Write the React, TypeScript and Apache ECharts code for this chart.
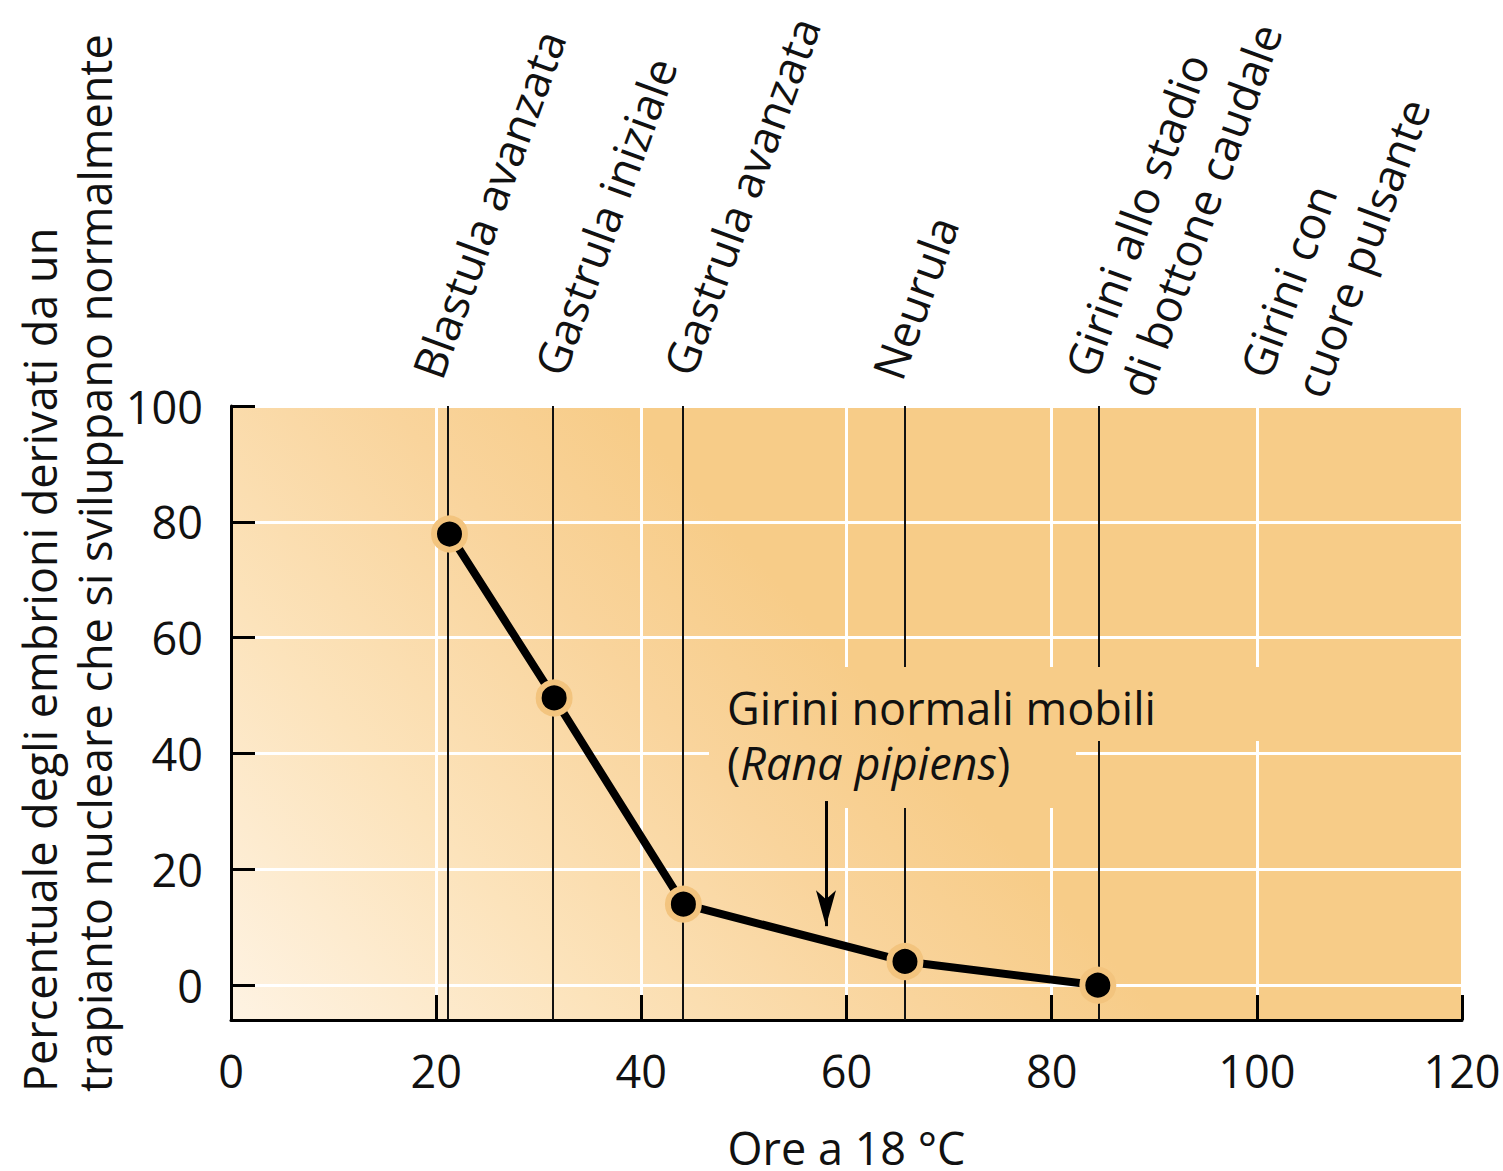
import React, { useEffect, useRef } from 'react';
import * as echarts from 'echarts';

// ---- data ----
const hours = [21.3, 31.5, 44.1, 65.7, 84.5];
const percent = [77.9, 49.6, 14.0, 4.1, 0];
const stageHours = [21.1, 31.35, 44.0, 65.7, 84.6];
const stageLabels = [
  'Blastula avanzata',
  'Gastrula iniziale',
  'Gastrula avanzata',
  'Neurula',
  'Girini allo stadio\ndi bottone caudale',
  'Girini con\ncuore pulsante',
];
const xTicks = [0, 20, 40, 60, 80, 100, 120];
const yTicks = [0, 20, 40, 60, 80, 100];
const arrowHour = 58.0;
const arrowFrom = 31.8;
const arrowTo = 10.2;
const yTitleLines = [
  'Percentuale degli embrioni derivati da un',
  'trapianto nucleare che si sviluppano normalmente',
];
const xTitle = 'Ore a 18 °C';
const noteLine1 = 'Girini normali mobili';
const noteSpecies = 'Rana pipiens';

// ---- layout ----
const FONT = '"Open Sans", "Noto Sans", sans-serif';
const FS = 45;
const TXT = '#111';
const stageAnchors = [
  [453, 386],
  [575, 383],
  [704, 383],
  [913, 387],
  [1160, 404],
  [1335, 405],
];

const makeGradient = () =>
  new echarts.graphic.LinearGradient(
    231, 1020, 755, 556,
    [
      { offset: 0, color: '#fef3e3' },
      { offset: 0.4, color: '#fce3bb' },
      { offset: 0.75, color: '#f9d49c' },
      { offset: 1, color: '#f7cc88' },
    ],
    true
  );

export default function App() {
  const ref = useRef<HTMLDivElement>(null);

  useEffect(() => {
    if (!ref.current) return;
    const chart = echarts.init(ref.current, null, { renderer: 'svg' });

    const rot70 = (70 * Math.PI) / 180;

    const graphic: any[] = [
      {
        type: 'rect', silent: true, z: 4,
        shape: { x: 709, y: 667, width: 561, height: 74 },
        style: { fill: makeGradient() },
      },
      {
        type: 'rect', silent: true, z: 4,
        shape: { x: 709, y: 739, width: 367, height: 69 },
        style: { fill: makeGradient() },
      },
      {
        type: 'text', z: 6, x: 727, y: 707,
        style: {
          text: noteLine1, fontSize: FS, fontFamily: FONT, fill: TXT,
          align: 'left', verticalAlign: 'middle',
        },
      },
      {
        type: 'text', z: 6, x: 727, y: 762,
        style: {
          text: '{n|(}{i|' + noteSpecies + '}{n|)}',
          fontSize: FS, fontFamily: FONT, fill: TXT,
          align: 'left', verticalAlign: 'middle',
          rich: {
            n: { fontSize: FS, fontFamily: FONT, fill: TXT },
            i: { fontSize: FS, fontFamily: FONT, fill: TXT, fontStyle: 'italic' },
          },
        },
      },
      ...stageLabels.map((t, i) => ({
        type: 'text', z: 6,
        x: stageAnchors[i][0], y: stageAnchors[i][1], rotation: rot70,
        style: {
          text: t, fontSize: FS, fontFamily: FONT, fill: TXT,
          align: 'left', verticalAlign: 'bottom', lineHeight: 58,
        },
      })),
      {
        type: 'text', z: 6, x: 39, y: 1092, rotation: Math.PI / 2,
        style: {
          text: yTitleLines[0], fontSize: FS, fontFamily: FONT, fill: TXT,
          align: 'left', verticalAlign: 'middle',
        },
      },
      {
        type: 'text', z: 6, x: 94, y: 1092, rotation: Math.PI / 2,
        style: {
          text: yTitleLines[1], fontSize: FS, fontFamily: FONT, fill: TXT,
          align: 'left', verticalAlign: 'middle',
        },
      },
    ];

    const axisLineStyle = { color: '#000', width: 3 };

    chart.setOption({
      animation: false,
      textStyle: { fontFamily: FONT },
      grid: {
        left: 231, right: 41, top: 406, bottom: 151,
        outerBoundsMode: 'none', containLabel: false,
        show: true, borderWidth: 0, backgroundColor: makeGradient(),
      },
      xAxis: {
        type: 'value', min: xTicks[0], max: xTicks[xTicks.length - 1], interval: 20,
        axisLine: { show: true, onZero: false, lineStyle: axisLineStyle },
        axisTick: { show: true, inside: true, length: 25, lineStyle: axisLineStyle },
        axisLabel: { margin: 28, fontSize: FS, color: TXT, fontFamily: FONT },
        splitLine: { show: true, lineStyle: { color: '#ffffff', width: 3 } },
        name: xTitle, nameLocation: 'middle', nameGap: 109,
        nameTextStyle: { fontSize: FS, color: TXT, fontFamily: FONT, lineHeight: 36 },
      },
      yAxis: {
        type: 'value', min: -6, max: 100,
        axisLine: { show: true, onZero: false, lineStyle: axisLineStyle },
        axisTick: { show: true, inside: true, length: 24, customValues: yTicks, lineStyle: axisLineStyle },
        axisLabel: { customValues: yTicks, margin: 28, fontSize: FS, color: TXT, fontFamily: FONT },
        splitLine: { show: true, lineStyle: { color: '#ffffff', width: 3 } },
      },
      series: [
        {
          type: 'line', z: 3, silent: true,
          data: hours.map((h, i) => [h, percent[i]]),
          symbol: 'circle', symbolSize: 31,
          itemStyle: { color: '#000', borderColor: '#f3c47e', borderWidth: 6 },
          lineStyle: { color: '#000', width: 8 },
          emphasis: { disabled: true },
          markLine: {
            z: 1, silent: true, symbol: ['none', 'none'],
            label: { show: false },
            lineStyle: { color: '#111', width: 2, type: 'solid' },
            emphasis: { disabled: true },
            data: stageHours.map((h) => ({ xAxis: h })),
          },
        },
        {
          type: 'line', z: 10, silent: true, data: [],
          markLine: {
            z: 10, silent: true, symbol: ['none', 'arrow'], symbolSize: [15, 36],
            label: { show: false },
            lineStyle: { color: '#000', width: 3, type: 'solid' },
            emphasis: { disabled: true },
            data: [[{ coord: [arrowHour, arrowFrom] }, { coord: [arrowHour, arrowTo] }]],
          },
        },
      ],
      graphic,
    });

    return () => chart.dispose();
  }, []);

  return (
    <div
      ref={ref}
      style={{ position: 'fixed', left: 0, top: 0, width: 1503, height: 1171, background: '#fff' }}
    />
  );
}
